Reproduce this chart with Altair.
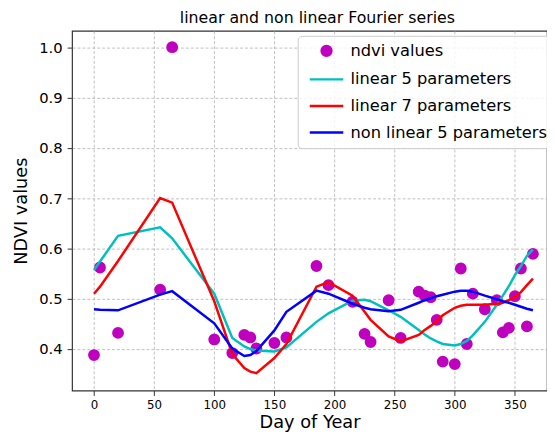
import altair as alt
import pandas as pd

# Day of year of each observation
days = [0, 5, 20, 55, 65, 100, 115, 125, 130, 135, 150, 160, 185, 195, 215, 225,
        230, 245, 255, 270, 275, 280, 285, 290, 300, 305, 310, 315, 325, 335, 340,
        345, 350, 355, 360, 365]

ndvi = [0.388, 0.562, 0.432, 0.518, 1.000, 0.419, 0.392, 0.428, 0.423, 0.401, 0.412,
        0.423, 0.565, 0.527, 0.494, 0.430, 0.414, 0.497, 0.422, 0.514, 0.506, 0.503,
        0.458, 0.375, 0.370, 0.560, 0.410, 0.510, 0.479, 0.497, 0.433, 0.442, 0.505,
        0.560, 0.445, 0.589]

lin5 = [0.557, 0.574, 0.625, 0.642, 0.620, 0.510, 0.422, 0.405, 0.400, 0.397, 0.395,
        0.403, 0.454, 0.471, 0.496, 0.498, 0.495, 0.477, 0.464, 0.438, 0.429, 0.421,
        0.415, 0.410, 0.407, 0.410, 0.416, 0.427, 0.454, 0.488, 0.506, 0.525, 0.547,
        0.565, 0.585, 0.598]

lin7 = [0.510, 0.524, 0.575, 0.700, 0.691, 0.495, 0.390, 0.362, 0.355, 0.352, 0.382,
        0.410, 0.524, 0.533, 0.506, 0.474, 0.458, 0.425, 0.415, 0.428, 0.438, 0.446,
        0.455, 0.467, 0.482, 0.486, 0.488, 0.488, 0.488, 0.490, 0.492, 0.497, 0.503,
        0.513, 0.527, 0.540]

nonlin5 = [0.479, 0.478, 0.477, 0.508, 0.515, 0.451, 0.401, 0.386, 0.388, 0.396, 0.437,
           0.474, 0.516, 0.510, 0.490, 0.482, 0.479, 0.475, 0.478, 0.492, 0.497, 0.501,
           0.505, 0.508, 0.514, 0.516, 0.516, 0.514, 0.506, 0.499, 0.495, 0.492, 0.488,
           0.484, 0.480, 0.477]

series_names = ["ndvi values", "linear 5 parameters", "linear 7 parameters",
                "non linear 5 parameters"]
series_colors = ["#bf00bf", "#00bfbf", "#ff0000", "#0000ff"]
x_ticks = [0, 50, 100, 150, 200, 250, 300, 350]
y_ticks = [0.4, 0.5, 0.6, 0.7, 0.8, 0.9, 1.0]

pts = pd.DataFrame({"day": days, "value": ndvi, "series": series_names[0]})
line_frames = []
for name, vals in zip(series_names[1:], [lin5, lin7, nonlin5]):
    line_frames.append(pd.DataFrame({"day": days, "value": vals, "series": name}))
lines = pd.concat(line_frames, ignore_index=True)

FONT = "DejaVu Sans"
LINE_SYMBOL = "M-3.4,0H3.4"

x_enc = alt.X(
    "day:Q",
    scale=alt.Scale(domain=[-18.25, 376.7], nice=False, zero=False),
    axis=alt.Axis(values=x_ticks, title="Day of Year", labelFontSize=12,
                  titleFontSize=18, titlePadding=4, labelPadding=4, format="d"),
)
y_enc = alt.Y(
    "value:Q",
    scale=alt.Scale(domain=[0.3175, 1.0325], nice=False, zero=False),
    axis=alt.Axis(values=y_ticks, title="NDVI values", labelFontSize=15,
                  titleFontSize=18, titlePadding=8, labelPadding=5, format=".1f"),
)

color_scale = alt.Scale(domain=series_names, range=series_colors)
shape_scale = alt.Scale(domain=series_names,
                        range=["circle", LINE_SYMBOL, LINE_SYMBOL, LINE_SYMBOL])

legend = alt.Legend(
    title=None,
    orient="none",
    legendX=229,
    legendY=5,
    fillColor="rgba(255,255,255,0.8)",
    strokeColor="#cccccc",
    cornerRadius=4,
    padding=7,
    labelFontSize=16.5,
    labelFont=FONT,
    labelColor="black",
    labelLimit=400,
    symbolStrokeWidth=2.5,
    symbolOffset=14,
    rowPadding=10,
    labelOffset=16,
)

points = alt.Chart(pts).mark_point(filled=True, size=100, opacity=1).encode(
    x=x_enc,
    y=y_enc,
    fill=alt.Fill("series:N", scale=color_scale, legend=legend),
    stroke=alt.Stroke("series:N", scale=color_scale, legend=legend),
    shape=alt.Shape("series:N", scale=shape_scale, legend=legend),
)

line_layer = alt.Chart(lines).mark_line(strokeWidth=2.5).encode(
    x=x_enc,
    y=y_enc,
    stroke=alt.Stroke("series:N", scale=color_scale, legend=legend),
    order="day:Q",
)

chart = (
    alt.layer(points, line_layer)
    .properties(
        width=482,
        height=365,
        title=alt.TitleParams("linear and non linear Fourier series", fontSize=16,
                              font=FONT, fontWeight="normal", color="black",
                              anchor="middle", offset=5, dx=8),
        autosize=alt.AutoSizeParams(type="none"),
        padding={"left": 65, "top": 20, "right": 0, "bottom": 45},
    )
    .configure_view(stroke="#333333", strokeWidth=1.2)
    .configure_axis(
        labelFont=FONT, titleFont=FONT, labelColor="black", titleColor="black",
        titleFontWeight="normal", domain=False, tickColor="#333333", tickSize=5,
        tickWidth=1, gridColor="#b0b0b0", gridDash=[3, 2], gridWidth=0.8,
    )
)

chart.save("out.html", embed_options={"renderer": "svg", "actions": False})
